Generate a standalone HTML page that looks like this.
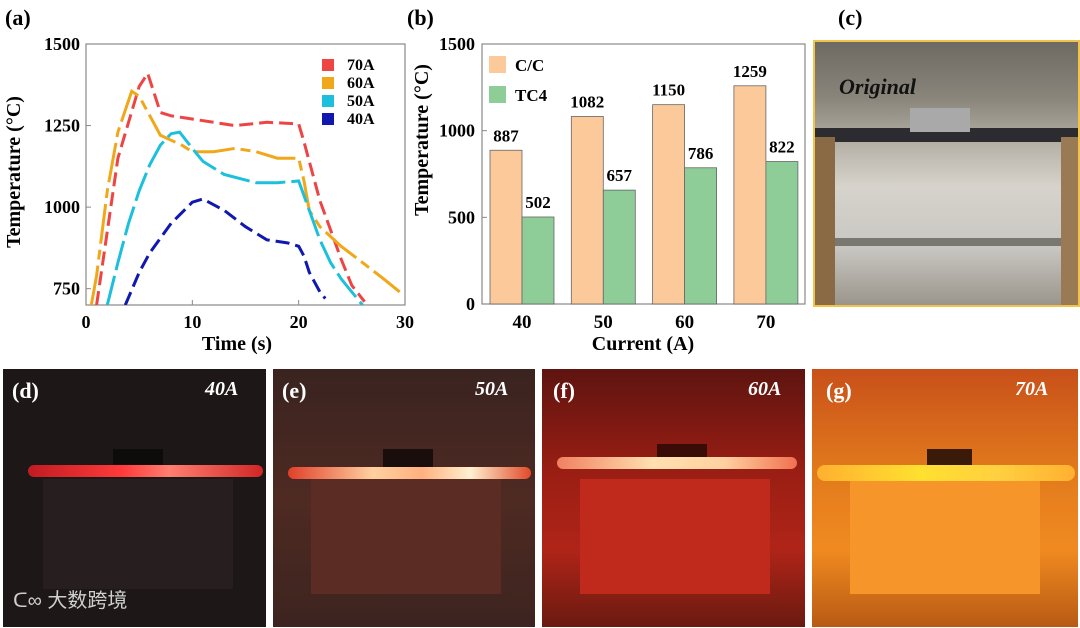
<!DOCTYPE html>
<html><head><meta charset="utf-8"><style>
body{margin:0;width:1080px;height:628px;background:#fff;overflow:hidden;position:relative;font-family:"Liberation Serif",serif}
.ph{position:absolute;overflow:hidden}
.lab{position:absolute;font-weight:bold;font-size:22px;color:#fff;font-family:"Liberation Serif",serif}
.cur{position:absolute;font-weight:bold;font-style:italic;font-size:20px;color:#fff}
</style></head><body>
<svg width="1080" height="628" style="position:absolute;left:0;top:0" font-family="Liberation Serif, serif" font-weight="bold">
<g id="pa"></g>
<g id="pb"></g>
<text x="838" y="25" font-size="22">(c)</text>
</svg>

<div class="ph" style="left:813px;top:40px;width:263px;height:263px;border:2px solid #f2c34a;background:linear-gradient(#6d6a63 0%,#8a867c 22%,#b9b4aa 40%,#d6d3cc 55%,#c9c7c2 78%,#9a958c 100%)">
 <div style="position:absolute;left:0;top:86px;width:263px;height:14px;background:#2c2c30"></div>
 <div style="position:absolute;left:95px;top:66px;width:60px;height:24px;background:#a9a9a9"></div>
 <div style="position:absolute;left:0;top:95px;width:20px;height:168px;background:#8a6a45"></div>
 <div style="position:absolute;left:246px;top:95px;width:17px;height:168px;background:#9a7a55"></div>
 <div style="position:absolute;left:20px;top:196px;width:226px;height:8px;background:#7a7670"></div>
 <div style="position:absolute;left:24px;top:32px;font-size:22px;font-weight:bold;font-style:italic;color:#111">Original</div>
</div>

<div class="ph" style="left:3px;top:369px;width:263px;height:258px;background:#1d1718">
 <div style="position:absolute;left:40px;top:110px;width:190px;height:110px;background:#271f1f"></div>
 <div style="position:absolute;left:110px;top:80px;width:50px;height:22px;background:#0e0b0b"></div>
 <div style="position:absolute;left:25px;top:96px;width:235px;height:12px;border-radius:6px;background:linear-gradient(90deg,#c01c22,#ff3a3a 40%,#ff7f70 60%,#d02626)"></div>
 <div style="position:absolute;left:10px;top:215px;font-family:'Liberation Sans','Noto Sans CJK SC',sans-serif;font-size:20px;color:#cfcfcf">ᑕ∞ 大数跨境</div>
</div>
<div class="ph" style="left:273px;top:369px;width:262px;height:258px;background:linear-gradient(#3a2320,#4e2a22 50%,#3d2420)">
 <div style="position:absolute;left:38px;top:110px;width:190px;height:115px;background:#5b2c24"></div>
 <div style="position:absolute;left:110px;top:80px;width:50px;height:22px;background:#1a0e0c"></div>
 <div style="position:absolute;left:15px;top:98px;width:243px;height:12px;border-radius:6px;background:linear-gradient(90deg,#e0402a,#ffd0a0 35%,#ffb080 55%,#fff0d0 75%,#e04a2a)"></div>
</div>
<div class="ph" style="left:542px;top:369px;width:263px;height:258px;background:linear-gradient(#5e1410,#9a1e14 40%,#b02418 70%,#6a1a10)">
 <div style="position:absolute;left:38px;top:110px;width:190px;height:115px;background:#c02a1c"></div>
 <div style="position:absolute;left:115px;top:75px;width:50px;height:22px;background:#3a0c08"></div>
 <div style="position:absolute;left:15px;top:88px;width:240px;height:12px;border-radius:6px;background:linear-gradient(90deg,#f08060,#ffe0b0 40%,#ffd0a0 70%,#f07050)"></div>
</div>
<div class="ph" style="left:812px;top:369px;width:266px;height:258px;background:linear-gradient(#c8501a,#e27a1c 40%,#f08a20 70%,#b85a14)">
 <div style="position:absolute;left:38px;top:110px;width:190px;height:115px;background:#f5952a"></div>
 <div style="position:absolute;left:115px;top:80px;width:45px;height:22px;background:#3a1a08"></div>
 <div style="position:absolute;left:5px;top:96px;width:258px;height:16px;border-radius:8px;background:linear-gradient(90deg,#ffb030,#ffe030 40%,#ffd040 70%,#ffb030)"></div>
</div>
<div class="lab" style="left:12px;top:378px">(d)</div>
<div class="cur" style="left:205px;top:378px">40A</div>
<div class="lab" style="left:282px;top:378px">(e)</div>
<div class="cur" style="left:475px;top:378px">50A</div>
<div class="lab" style="left:553px;top:378px">(f)</div>
<div class="cur" style="left:748px;top:378px">60A</div>
<div class="lab" style="left:826px;top:378px">(g)</div>
<div class="cur" style="left:1015px;top:378px">70A</div>

<script>
// Panel (a) data
const aNames=['70A','60A','50A','40A'];
const aColors=['#ee4444','#f0a81a','#1cc0dc','#1018b0'];
const s70=[[1.0,700],[3,1150],[5,1370],[5.8,1410],[7,1290],[8,1280],[12,1260],[14,1250],[17,1260],[20,1255],[20.5,1200],[22,1020],[23,930],[24,840],[25,760],[26.2,710]];
const s60=[[0.5,700],[1,790],[2,1050],[3,1230],[4.3,1355],[5,1340],[7,1220],[9,1190],[10,1170],[12,1170],[14,1180],[16,1170],[18,1150],[20,1150],[20.5,1080],[21,990],[22,940],[24,880],[26,830],[28,780],[29.5,740]];
const s50=[[2,700],[3,830],[4,950],[5,1050],[6,1130],[7,1190],[8,1225],[8.8,1230],[10,1180],[11,1140],[13,1100],[16,1075],[18,1075],[20,1080],[21,990],[22,900],[23,830],[24,780],[25,740],[26,700]];
const s40=[[3.7,700],[5,800],[6,860],[8,950],[10,1015],[11,1025],[13,990],[15,940],[17,900],[19,890],[20,880],[20.5,850],[21,800],[22,740],[22.5,720]];
const aXTicks=[0,10,20,30];
const aYTicks=[750,1000,1250,1500];
// Panel (b) data
const bCats=['40','50','60','70'];
const bCC=[887,1082,1150,1259];
const bTC4=[502,657,786,822];
const bYTicks=[0,500,1000,1500];

const NS='http://www.w3.org/2000/svg';
function mk(p,t,at,txt){const e=document.createElementNS(NS,t);for(const k in at)e.setAttribute(k,at[k]);if(txt!==undefined)e.textContent=txt;p.appendChild(e);return e;}
const pa=document.getElementById('pa');
const ax=v=>86+(v-0)*(405-86)/30, ay=v=>305-(v-700)*(305-44)/800;
mk(pa,'text',{x:5,y:25,'font-size':22},'(a)');
mk(pa,'rect',{x:86,y:44,width:319,height:261,fill:'none',stroke:'#888','stroke-width':1.2});
const dashes=['14,6','22,6,4,6','30,6','14,6'];
const sers=[s70,s60,s50,s40];
const cp=mk(pa,'clipPath',{id:'ca'});mk(cp,'rect',{x:86,y:44,width:319,height:261});
sers.forEach((s,i)=>{const p=mk(pa,'path',{d:'M'+s.map(q=>ax(q[0]).toFixed(1)+','+ay(q[1]).toFixed(1)).join('L'),fill:'none',stroke:aColors[i],'stroke-width':3,'stroke-dasharray':i==1?'40,6,10,6':dashes[i],'clip-path':'url(#ca)'});
 
 const y=66+i*18;const r=mk(pa,'rect',{x:322,y:y-7,width:12,height:12,fill:aColors[i]});
 const t=mk(pa,'text',{x:347,y:y+4,'font-size':16},aNames[i]);});
aXTicks.forEach(v=>{mk(pa,'line',{x1:ax(v),x2:ax(v),y1:305,y2:300,stroke:'#888'});const t=mk(pa,'text',{x:ax(v),y:328,'font-size':18,'text-anchor':'middle'},v);});
aYTicks.forEach(v=>{mk(pa,'line',{x1:86,x2:91,y1:ay(v),y2:ay(v),stroke:'#888'});const t=mk(pa,'text',{x:80,y:ay(v)+6,'font-size':18,'text-anchor':'end'},v);});
let t=mk(pa,'text',{x:237,y:350,'font-size':20,'text-anchor':'middle'},'Time (s)');
t=mk(pa,'text',{x:0,y:0,'font-size':20,'text-anchor':'middle',transform:'translate(20,172) rotate(-90)'},'Temperature (°C)');

const pb=document.getElementById('pb');
const by=v=>304-v*(304-44)/1500;const bx=i=>522+i*81.3;
mk(pb,'text',{x:407,y:25,'font-size':22},'(b)');
mk(pb,'rect',{x:482,y:44,width:323,height:260,fill:'none',stroke:'#888','stroke-width':1.2});
bCats.forEach((c,i)=>{
 let r=mk(pb,'rect',{x:bx(i)-32,y:by(bCC[i]),width:32,height:304-by(bCC[i]),fill:'#fbc99a',stroke:'#666','stroke-width':0.8});
 r=mk(pb,'rect',{x:bx(i),y:by(bTC4[i]),width:32,height:304-by(bTC4[i]),fill:'#8ecc98',stroke:'#666','stroke-width':0.8});
 let q=mk(pb,'text',{x:bx(i)-16,y:by(bCC[i])-9,'font-size':17,'text-anchor':'middle'},bCC[i]);
 q=mk(pb,'text',{x:bx(i)+16,y:by(bTC4[i])-9,'font-size':17,'text-anchor':'middle'},bTC4[i]);
 q=mk(pb,'text',{x:bx(i),y:328,'font-size':19,'text-anchor':'middle'},c);});
bYTicks.forEach(v=>{mk(pb,'line',{x1:482,x2:487,y1:by(v),y2:by(v),stroke:'#888'});const q=mk(pb,'text',{x:475,y:by(v)+6,'font-size':18,'text-anchor':'end'},v);});
mk(pb,'rect',{x:489,y:56,width:17,height:17,fill:'#fbc99a'});mk(pb,'text',{x:515,y:71,'font-size':17},'C/C');
mk(pb,'rect',{x:489,y:86,width:17,height:17,fill:'#8ecc98'});mk(pb,'text',{x:515,y:101,'font-size':17},'TC4');
t=mk(pb,'text',{x:643,y:350,'font-size':20,'text-anchor':'middle'},'Current (A)');
t=mk(pb,'text',{x:0,y:0,'font-size':20,'text-anchor':'middle',transform:'translate(428,140) rotate(-90)'},'Temperature (°C)');
</script>
</body></html>
